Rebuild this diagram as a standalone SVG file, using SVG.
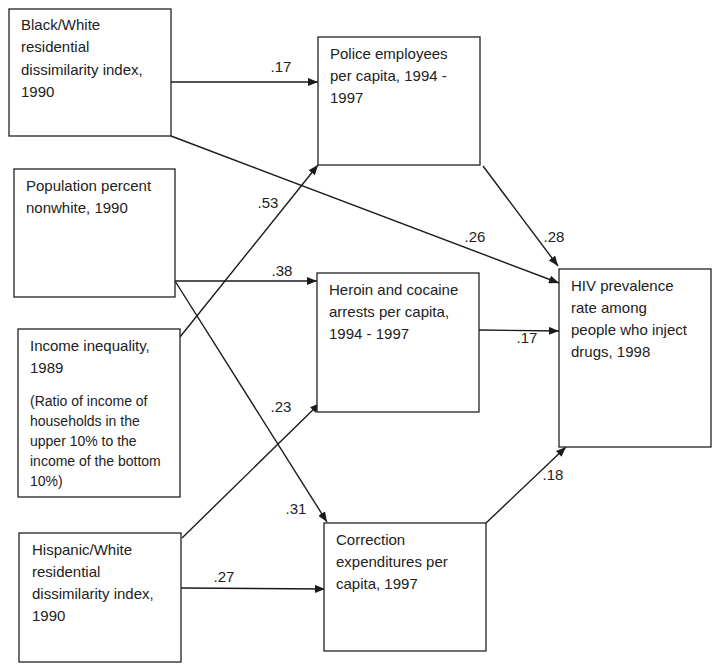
<svg xmlns="http://www.w3.org/2000/svg" width="720" height="671" viewBox="0 0 720 671">
<style>
.box{fill:#fff;stroke:#222;stroke-width:1.3}
.t{font-family:"Liberation Sans",Arial,sans-serif;font-size:15px;fill:#222}
.s{font-size:14px}
.lbl{font-family:"Liberation Sans",Arial,sans-serif;font-size:15px;fill:#222;text-anchor:middle}
.c{stroke:#1a1a1a;stroke-width:1.4;fill:none;marker-end:url(#ah)}
</style>
<defs>
<marker id="ah" markerUnits="userSpaceOnUse" markerWidth="10" markerHeight="8" refX="10" refY="4" orient="auto">
<path d="M0,0 L10,4 L0,8 z" fill="#1a1a1a"/>
</marker>
</defs>
<rect width="720" height="671" fill="#fff"/>
<g id="connectors">
<line class="c" x1="171" y1="82" x2="318" y2="82"/>
<line class="c" x1="171" y1="136" x2="559" y2="283"/>
<line class="c" x1="483" y1="166" x2="558" y2="266"/>
<line class="c" x1="180" y1="337" x2="318" y2="165"/>
<line class="c" x1="175" y1="281" x2="317" y2="281"/>
<line class="c" x1="175" y1="281" x2="327" y2="522"/>
<line class="c" x1="182" y1="538" x2="320" y2="403"/>
<line class="c" x1="181" y1="588" x2="325" y2="589"/>
<line class="c" x1="479" y1="330" x2="559" y2="331"/>
<line class="c" x1="485" y1="524" x2="566" y2="447"/>
<text class="lbl" x="281" y="72">.17</text>
<text class="lbl" x="475" y="242">.26</text>
<text class="lbl" x="554" y="242">.28</text>
<text class="lbl" x="268" y="208">.53</text>
<text class="lbl" x="282" y="276">.38</text>
<text class="lbl" x="281" y="412">.23</text>
<text class="lbl" x="296" y="514">.31</text>
<text class="lbl" x="224" y="582">.27</text>
<text class="lbl" x="527" y="343">.17</text>
<text class="lbl" x="553" y="480">.18</text>
</g>
<g id="black-white">
<rect class="box" x="9" y="9" width="162" height="127"/>
<text class="t" x="21" y="30">Black/White</text>
<text class="t" x="21" y="52">residential</text>
<text class="t" x="21" y="74.5">dissimilarity index,</text>
<text class="t" x="21" y="96.5">1990</text>
</g>
<g id="police">
<rect class="box" x="318" y="37" width="162" height="128"/>
<text class="t" x="330" y="59">Police employees</text>
<text class="t" x="330" y="81">per capita, 1994 -</text>
<text class="t" x="330" y="103">1997</text>
</g>
<g id="population">
<rect class="box" x="14" y="169" width="161" height="128"/>
<text class="t" x="26" y="191">Population percent</text>
<text class="t" x="26" y="213">nonwhite, 1990</text>
</g>
<g id="income">
<rect class="box" x="18" y="329" width="162" height="168"/>
<text class="t" x="30" y="351">Income inequality,</text>
<text class="t" x="30" y="373">1989</text>
<text class="t s" x="30" y="406">(Ratio of income of</text>
<text class="t s" x="30" y="426">households in the</text>
<text class="t s" x="30" y="446">upper 10% to the</text>
<text class="t s" x="30" y="466">income of the bottom</text>
<text class="t s" x="30" y="486">10%)</text>
</g>
<g id="heroin">
<rect class="box" x="317" y="273" width="162" height="139"/>
<text class="t" x="329" y="295">Heroin and cocaine</text>
<text class="t" x="329" y="317">arrests per capita,</text>
<text class="t" x="329" y="339">1994 - 1997</text>
</g>
<g id="hiv">
<rect class="box" x="559" y="269" width="152" height="178"/>
<text class="t" x="571" y="291">HIV prevalence</text>
<text class="t" x="571" y="313">rate among</text>
<text class="t" x="571" y="335">people who inject</text>
<text class="t" x="571" y="357">drugs, 1998</text>
</g>
<g id="hispanic">
<rect class="box" x="19" y="533" width="162" height="129"/>
<text class="t" x="32" y="555">Hispanic/White</text>
<text class="t" x="32" y="577">residential</text>
<text class="t" x="32" y="599">dissimilarity index,</text>
<text class="t" x="32" y="621">1990</text>
</g>
<g id="correction">
<rect class="box" x="324" y="523" width="162" height="128"/>
<text class="t" x="336" y="545">Correction</text>
<text class="t" x="336" y="567">expenditures per</text>
<text class="t" x="336" y="589">capita, 1997</text>
</g>
</svg>
